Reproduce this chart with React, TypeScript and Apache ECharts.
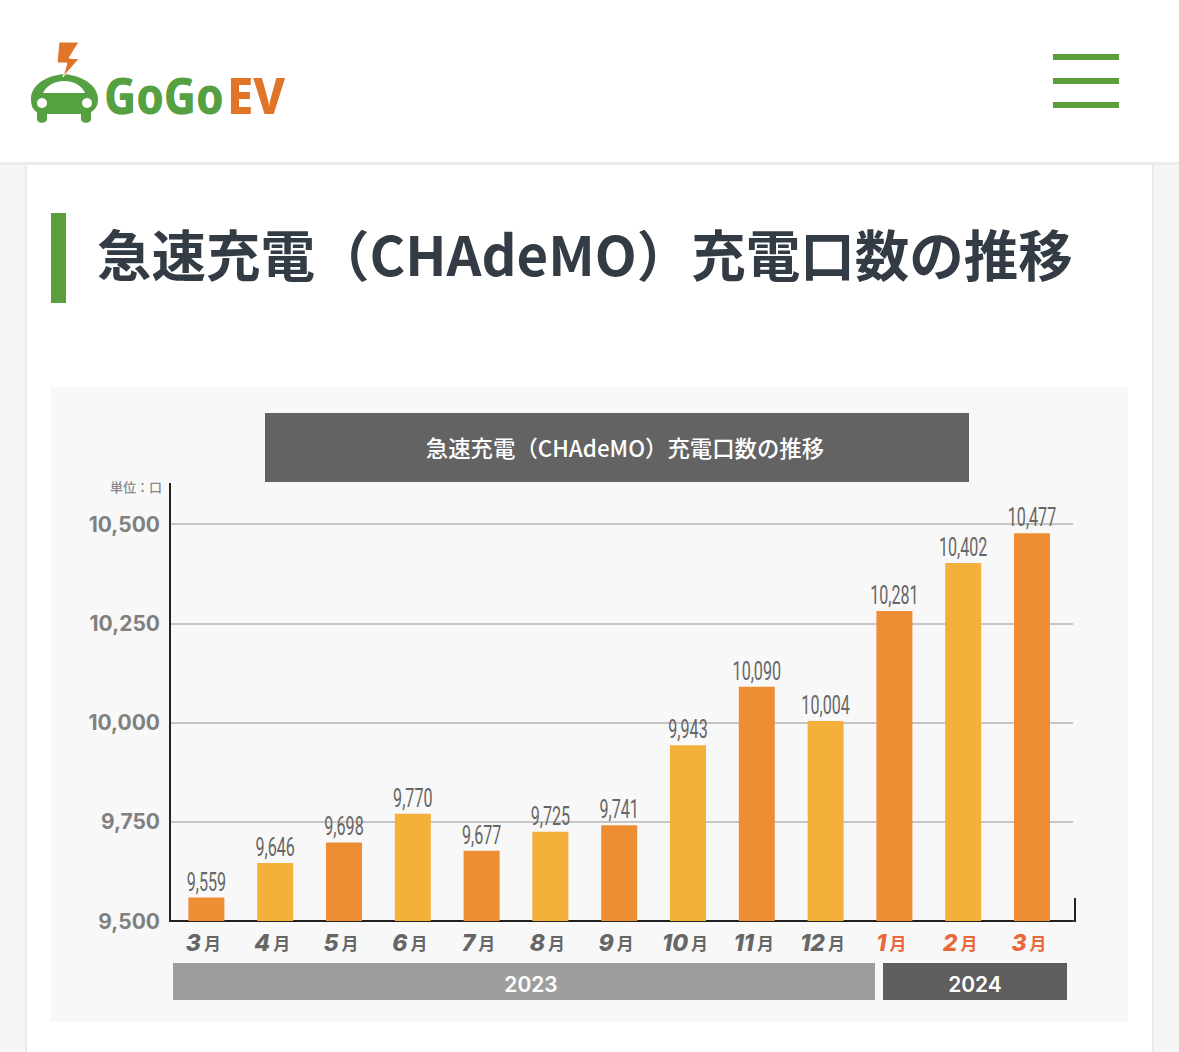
import React, { useEffect, useRef } from "react";
import * as echarts from "echarts";

const months = ["3月", "4月", "5月", "6月", "7月", "8月", "9月", "10月", "11月", "12月", "1月", "2月", "3月"];
const ports = [9559, 9646, 9698, 9770, 9677, 9725, 9741, 9943, 10090, 10004, 10281, 10402, 10477];
const barColors = ["#EE8E33", "#F3B03B"];
const pageTitle = "急速充電（CHAdeMO）充電口数の推移";
const unitLabel = "単位：口";
const yearLabels = ["2023", "2024"];

const CJK = '"Noto Sans CJK JP", sans-serif';
const fmt = (v: number) => v.toLocaleString("en-US");

echarts.graphic.registerShape(
  "carBody",
  echarts.graphic.extendPath(
    "M31 99 C31 87 43 76 64 74 C85 76 98 87 98 99 C98 106 95 110 91 112 L91 119 C91 124 81 124 81 119 L81 114 L47 114 L47 119 C47 124 37 124 37 119 L37 112 C33 110 31 106 31 99 Z",
    {}
  )
);
echarts.graphic.registerShape(
  "carWindow",
  echarts.graphic.extendPath("M43 93 C46 86 54 81 64 81 C75 81 82 86 85 93 Z", {})
);

export default function App() {
  const ref = useRef<HTMLDivElement>(null);
  useEffect(() => {
    document.body.style.margin = "0";
    const chart = echarts.init(ref.current!, null, { renderer: "svg" });
    const bands = [
      { x: 173, width: 702, color: "#9E9E9E", textX: 531 },
      { x: 883, width: 184, color: "#5F5D5E", textX: 975 },
    ];
    chart.setOption({
      animation: false,
      backgroundColor: "#F5F5F5",
      grid: [
        { left: 172, top: 524, width: 894.4, height: 397 },
        { left: 170, top: 524, width: 903, height: 397 },
      ],
      xAxis: [
        {
          type: "category",
          gridIndex: 0,
          data: months,
          axisLine: { show: false },
          axisTick: { show: false },
          axisLabel: {
            margin: 10,
            interval: 0,
            formatter: (value: string, index: number) => {
              const digit = value.replace("月", "");
              return index >= 10 ? `{rn|${digit}}{rm|月}` : `{n|${digit}}{m|月}`;
            },
            rich: {
              n: { fontFamily: "Inter", fontStyle: "italic", fontWeight: 800, fontSize: 23, color: "#666666", padding: [0, 3, 0, 0] },
              m: { fontFamily: CJK, fontWeight: 700, fontSize: 17, color: "#666666", padding: [0, 6, 0, 0] },
              rn: { fontFamily: "Inter", fontStyle: "italic", fontWeight: 800, fontSize: 23, color: "#E8683A", padding: [0, 3, 0, 0] },
              rm: { fontFamily: CJK, fontWeight: 700, fontSize: 17, color: "#E8683A", padding: [0, 6, 0, 0] },
            },
          },
        },
        {
          type: "value",
          gridIndex: 1,
          min: 0,
          max: 1,
          axisLine: { show: true, onZero: false, lineStyle: { color: "#222222", width: 2 } },
          axisTick: { show: false },
          axisLabel: { show: false },
          splitLine: { show: false },
        },
      ],
      yAxis: [
        {
          type: "value",
          gridIndex: 0,
          min: 9500,
          max: 10500,
          interval: 250,
          axisLine: { show: false },
          axisTick: { show: false },
          axisLabel: { show: false },
          splitLine: { show: false },
        },
        {
          type: "value",
          gridIndex: 1,
          min: 9500,
          max: 10500,
          interval: 250,
          axisLine: { show: true, lineStyle: { color: "#222222", width: 2 } },
          axisTick: { show: false },
          axisLabel: {
            margin: 10,
            padding: [4, 0, 0, 0],
            formatter: (v: number) => fmt(v),
            fontFamily: "Inter",
            fontWeight: 700,
            fontSize: 21,
            color: "#808080",
          },
          splitLine: { show: true, lineStyle: { color: "#B4B4B4", width: 1.5 } },
        },
      ],
      series: [
        {
          type: "bar",
          xAxisIndex: 0,
          yAxisIndex: 0,
          data: ports,
          barWidth: 36,
          z: 3,
          itemStyle: { color: (p: any) => barColors[p.dataIndex % 2] },
        },
        {
          type: "custom",
          xAxisIndex: 0,
          yAxisIndex: 0,
          z: 4,
          data: ports.map((v, i) => [i, v]),
          renderItem: (_p: any, api: any) => {
            const pt = api.coord([api.value(0), api.value(1)]);
            return {
              type: "text",
              x: pt[0],
              y: pt[1] - 3,
              scaleX: 0.62,
              style: {
                text: fmt(api.value(1)),
                fill: "#666666",
                fontFamily: "Roboto",
                fontSize: 26,
                align: "center",
                verticalAlign: "bottom",
              },
            };
          },
        },
      ],
      graphic: [
        // page chrome, kept under the plot
        { type: "rect", z: -10, shape: { x: 0, y: 0, width: 1179, height: 162 }, style: { fill: "#FFFFFF" } },
        { type: "rect", z: -10, shape: { x: 0, y: 162, width: 1179, height: 3 }, style: { fill: "#EBEBEB" } },
        { type: "rect", z: -10, shape: { x: 25, y: 165, width: 1129, height: 887 }, style: { fill: "#EAEAEC" } },
        { type: "rect", z: -10, shape: { x: 27, y: 165, width: 1125, height: 887 }, style: { fill: "#FFFFFF" } },
        { type: "rect", z: -10, shape: { x: 51, y: 213, width: 15, height: 90 }, style: { fill: "#5A9E3E" } },
        { type: "rect", z: -10, shape: { x: 51, y: 387, width: 1077, height: 635 }, style: { fill: "#F8F8F8" } },
        { type: "rect", z: -10, shape: { x: 265, y: 413, width: 704, height: 69 }, style: { fill: "#636363" } },
        { type: "rect", shape: { x: 1053, y: 54, width: 66, height: 6 }, style: { fill: "#5A9E3E" } },
        { type: "rect", shape: { x: 1053, y: 78, width: 66, height: 6 }, style: { fill: "#5A9E3E" } },
        { type: "rect", shape: { x: 1053, y: 102, width: 66, height: 6 }, style: { fill: "#5A9E3E" } },
        // logo
        { type: "carBody", x: 0, y: 0, style: { fill: "#55A040" } },
        { type: "carWindow", x: 0, y: 0, style: { fill: "#FFFFFF" } },
        { type: "circle", shape: { cx: 42, cy: 103, r: 5 }, style: { fill: "#FFFFFF" } },
        { type: "circle", shape: { cx: 87, cy: 103, r: 5 }, style: { fill: "#FFFFFF" } },
        {
          type: "polygon",
          shape: { points: [[59, 42], [79, 42], [69, 58], [79, 59], [63, 77], [67, 63], [57, 63]] },
          style: { fill: "#E0752A", stroke: "#FFFFFF", lineWidth: 1 },
        },
        {
          type: "text",
          x: 104,
          y: 95,
          scaleX: 0.88,
          style: {
            text: "GoGo",
            fill: "#55A040",
            fontFamily: "Noto Sans",
            fontWeight: 800,
            fontSize: 50,
            verticalAlign: "middle",
          },
        },
        {
          type: "text",
          x: 227,
          y: 95,
          scaleX: 0.95,
          style: {
            text: "EV",
            fill: "#E0752A",
            fontFamily: "Noto Sans",
            fontWeight: 800,
            fontSize: 50,
            verticalAlign: "middle",
          },
        },
        // headings
        {
          type: "text",
          x: 97,
          y: 252,
          style: {
            text: pageTitle,
            fill: "#333B44",
            fontFamily: CJK,
            fontWeight: 700,
            fontSize: 54.5,
            verticalAlign: "middle",
          },
        },
        {
          type: "text",
          x: 625,
          y: 447,
          style: {
            text: pageTitle,
            fill: "#FFFFFF",
            fontFamily: CJK,
            fontWeight: 500,
            fontSize: 22.4,
            align: "center",
            verticalAlign: "middle",
          },
        },
        {
          type: "text",
          x: 162,
          y: 486,
          style: {
            text: unitLabel,
            fill: "#888888",
            fontFamily: CJK,
            fontWeight: 500,
            fontSize: 13,
            align: "right",
            verticalAlign: "middle",
          },
        },
        // axis stubs
        { type: "line", shape: { x1: 170, y1: 483, x2: 170, y2: 524 }, style: { stroke: "#222222", lineWidth: 2 } },
        { type: "line", shape: { x1: 1075, y1: 898, x2: 1075, y2: 922 }, style: { stroke: "#222222", lineWidth: 2 } },
        // year bands
        ...bands.flatMap((b, i) => [
          { type: "rect", shape: { x: b.x, y: 963, width: b.width, height: 37 }, style: { fill: b.color } },
          {
            type: "text",
            x: b.textX,
            y: 984,
            style: {
              text: yearLabels[i],
              fill: "#FFFFFF",
              fontFamily: "Inter",
              fontWeight: 600,
              fontSize: 21,
              align: "center",
              verticalAlign: "middle",
            },
          },
        ]),
      ],
    });
    return () => chart.dispose();
  }, []);
  return <div ref={ref} style={{ width: 1179, height: 1052 }} />;
}
